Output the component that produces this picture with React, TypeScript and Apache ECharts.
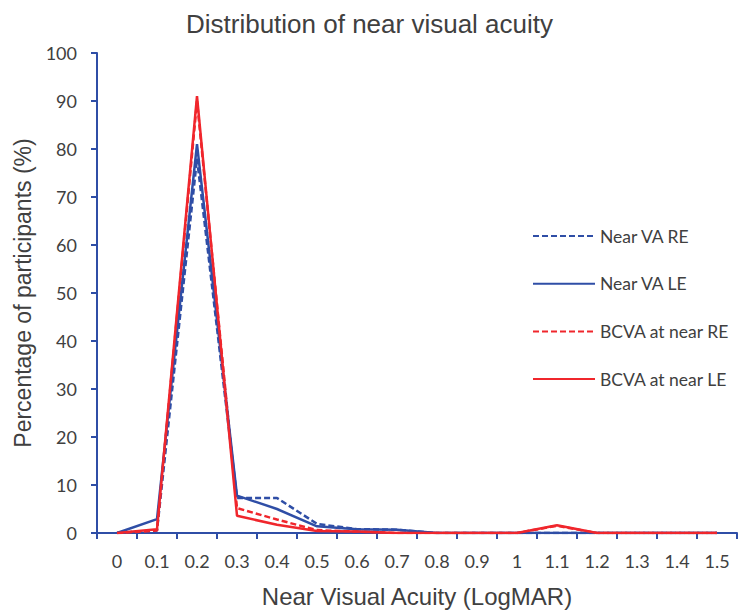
import React, { useEffect, useRef } from "react";
import * as echarts from "echarts";

const categories = ["0", "0.1", "0.2", "0.3", "0.4", "0.5", "0.6", "0.7", "0.8", "0.9", "1", "1.1", "1.2", "1.3", "1.4", "1.5"];
const nearVaRE = [0, 0.5, 78, 7.3, 7.3, 1.9, 0.8, 0.7, 0, 0, 0, 0, 0, 0, 0, 0];
const nearVaLE = [0, 2.9, 81, 7.8, 5, 1.4, 0.8, 0.7, 0, 0, 0, 0, 0, 0, 0, 0];
const bcvaRE = [0, 0.5, 90, 5.2, 2.8, 0.6, 0.3, 0, 0, 0, 0, 1.5, 0, 0, 0, 0];
const bcvaLE = [0, 0.8, 91, 3.6, 1.7, 0.4, 0.3, 0, 0, 0, 0, 1.6, 0, 0, 0, 0];
const yTicks = [0, 10, 20, 30, 40, 50, 60, 70, 80, 90, 100];

const BLUE = "#2F4EA6";
const RED = "#F0262C";
const TEXT = "#404040";

export default function App() {
  const ref = useRef<HTMLDivElement>(null);
  useEffect(() => {
    if (!ref.current) return;
    const chart = echarts.init(ref.current, undefined, { renderer: "svg" });
    const mk = (name: string, data: number[], color: string, dashed: boolean) => ({
      name,
      type: "line",
      data,
      symbol: "none",
      lineStyle: { color, width: 2.5, type: dashed ? [6, 3] : "solid" },
      itemStyle: { color },
      z: dashed ? 2 : 3,
    });
    chart.setOption({
      animation: false,
      backgroundColor: "#ffffff",
      title: {
        text: "Distribution of near visual acuity",
        left: "center",
        top: 6,
        textStyle: { fontFamily: "Liberation Sans", fontSize: 26, fontWeight: "normal", color: TEXT },
      },
      grid: { left: 97, right: 2, top: 53, bottom: 80, containLabel: false },
      legend: {
        orient: "vertical",
        left: 532,
        top: 227,
        padding: 0,
        itemWidth: 62,
        itemHeight: 14,
        itemGap: 29.7,
        itemStyle: { opacity: 0 },
        textStyle: { fontFamily: "Lato", fontSize: 17.5, color: TEXT },
        data: ["Near VA RE", "Near VA LE", "BCVA at near RE", "BCVA at near LE"],
      },
      xAxis: {
        type: "category",
        data: categories,
        boundaryGap: true,
        name: "Near Visual Acuity (LogMAR)",
        nameLocation: "middle",
        nameGap: 51,
        nameTextStyle: { fontFamily: "Liberation Sans", fontSize: 24, color: TEXT },
        axisLine: { lineStyle: { color: BLUE, width: 2 } },
        axisTick: { show: true, length: 6, lineStyle: { color: BLUE, width: 2 }, alignWithLabel: false },
        axisLabel: { fontFamily: "Lato", fontSize: 18, color: TEXT, margin: 19, interval: 0 },
        splitLine: { show: false },
      },
      yAxis: {
        type: "value",
        min: yTicks[0],
        max: yTicks[yTicks.length - 1],
        interval: 10,
        name: "Percentage of participants (%)",
        nameLocation: "middle",
        nameGap: 57,
        nameTextStyle: { fontFamily: "Liberation Sans", fontSize: 23, color: TEXT },
        axisLine: { show: true, lineStyle: { color: BLUE, width: 2 } },
        axisTick: { show: true, length: 6, lineStyle: { color: BLUE, width: 2 } },
        axisLabel: { fontFamily: "Lato", fontSize: 18, color: TEXT, margin: 20 },
        splitLine: { show: false },
      },
      series: [
        mk("Near VA RE", nearVaRE, BLUE, true),
        mk("Near VA LE", nearVaLE, BLUE, false),
        mk("BCVA at near RE", bcvaRE, RED, true),
        mk("BCVA at near LE", bcvaLE, RED, false),
      ],
    });
    return () => chart.dispose();
  }, []);
  return <div ref={ref} style={{ width: 739, height: 613, position: "absolute", left: 0, top: 0 }} />;
}
